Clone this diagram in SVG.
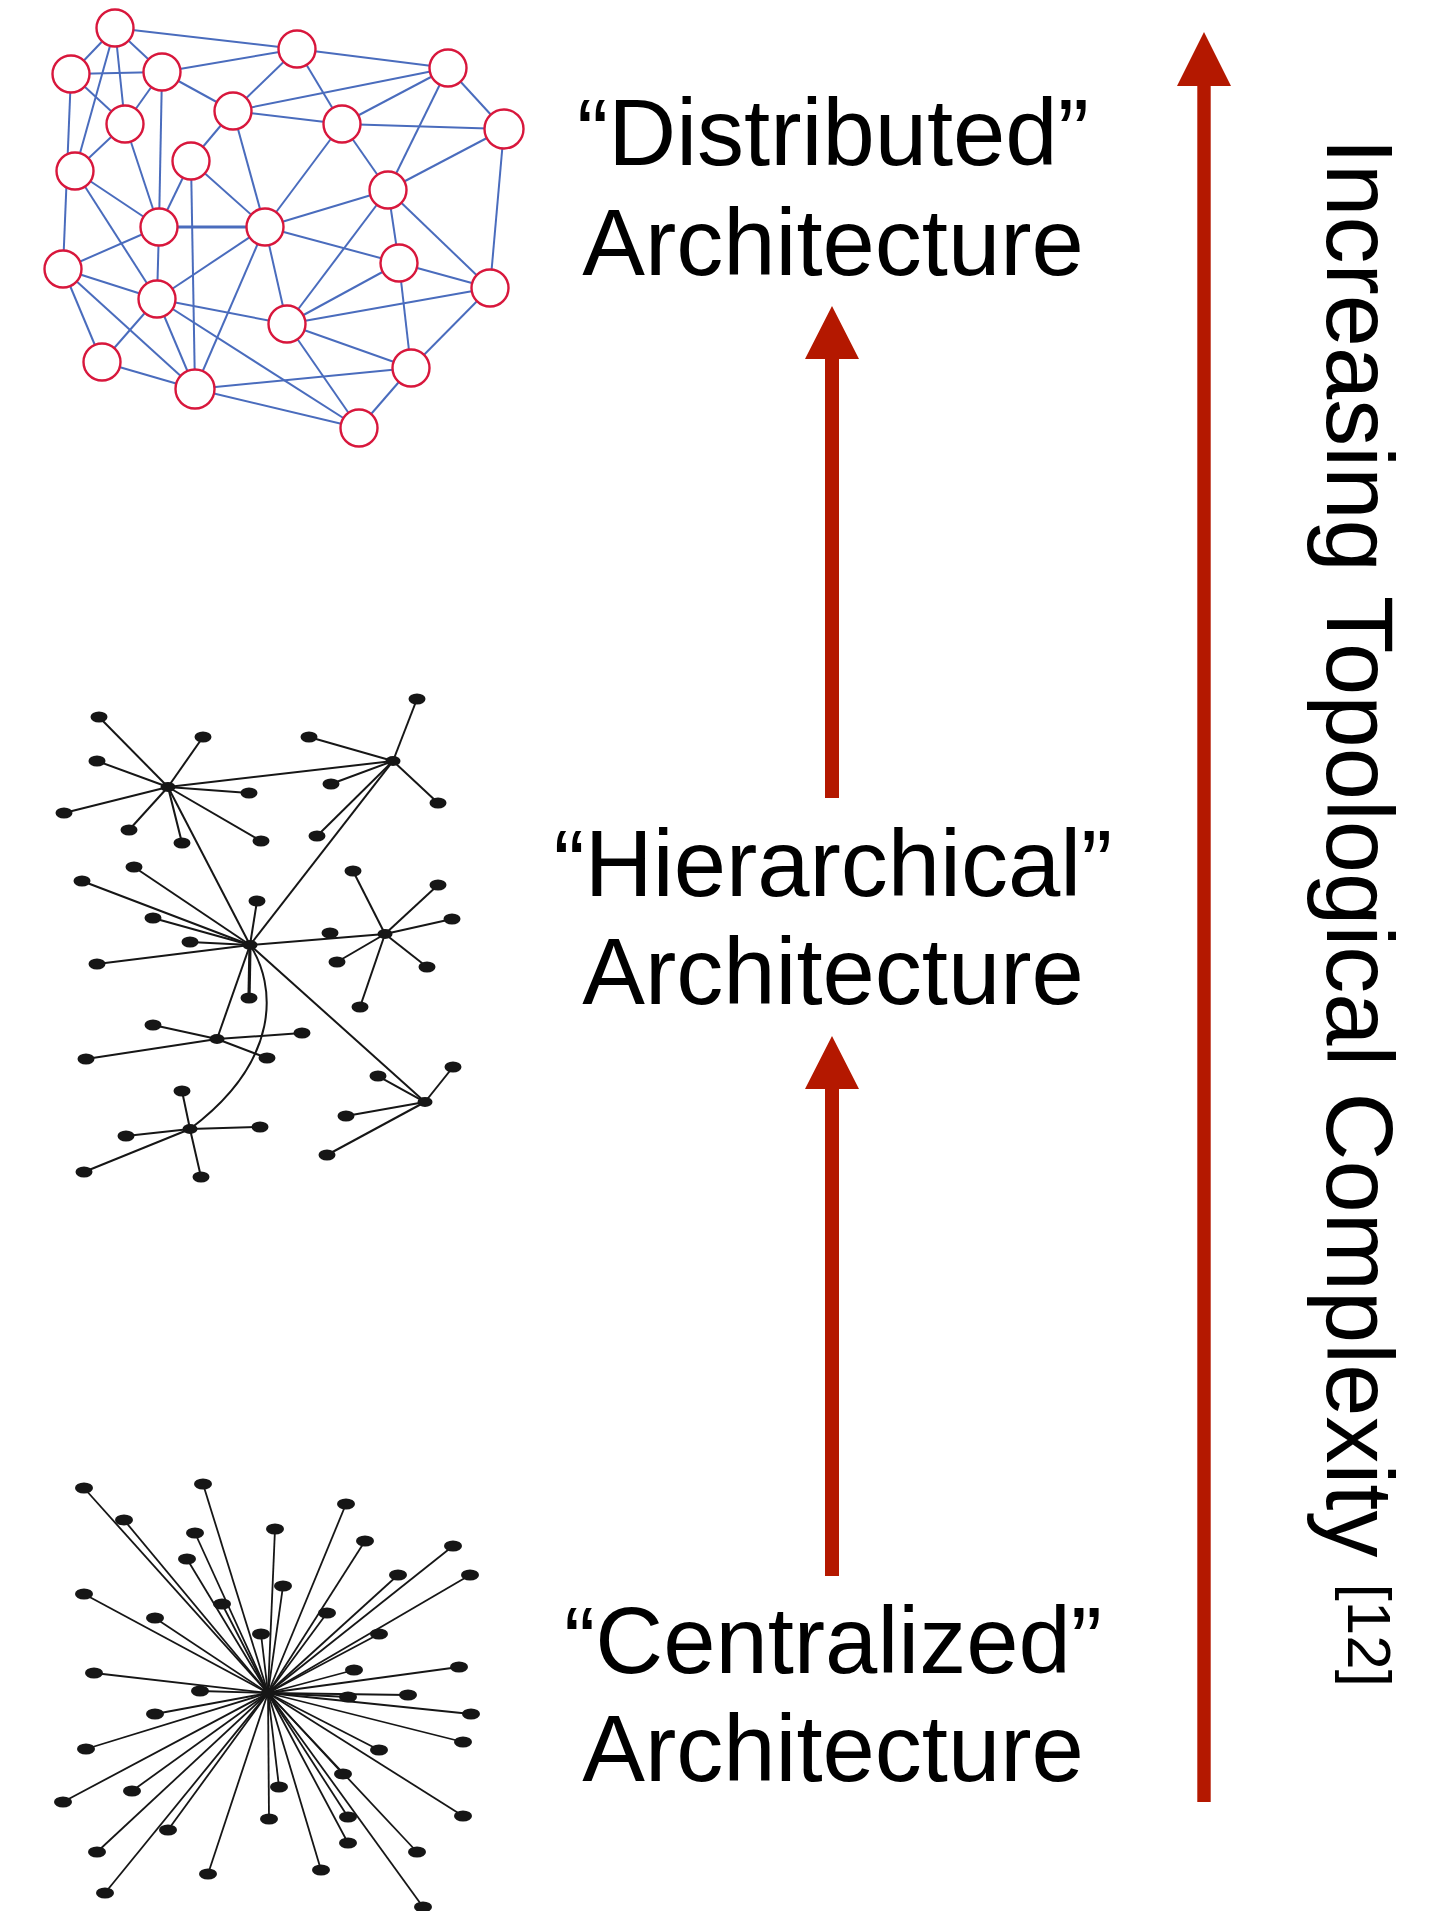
<svg xmlns="http://www.w3.org/2000/svg" width="1439" height="1911" viewBox="0 0 1439 1911">
  <style>
    .de { stroke: #4a6cbd; stroke-width: 2; fill: none; }
    .dn { fill: #ffffff; stroke: #d8173c; stroke-width: 2.4; }
    .he { stroke: #161616; stroke-width: 2; fill: none; }
    .hn { fill: #161616; }
    .ce { stroke: #161616; stroke-width: 1.8; }
    .cn { fill: #161616; }
    .label { font-family: "Liberation Sans", Arial, Helvetica, sans-serif; font-size: 94px; fill: #000000; text-anchor: middle; }
    .side { font-family: "Liberation Sans", Arial, Helvetica, sans-serif; font-size: 94px; fill: #000000; }
    .arrow { fill: #b41800; }
  </style>
  <rect width="1439" height="1911" fill="#ffffff"/>

  <!-- Distributed network: edges -->
  <g id="distributed-connectors" class="de">
    <line x1="115" y1="28" x2="297" y2="49"/>
    <line x1="115" y1="28" x2="71" y2="74"/>
    <line x1="115" y1="28" x2="162" y2="72"/>
    <line x1="115" y1="28" x2="125" y2="124"/>
    <line x1="115" y1="28" x2="75" y2="171"/>
    <line x1="71" y1="74" x2="162" y2="72"/>
    <line x1="71" y1="74" x2="125" y2="124"/>
    <line x1="71" y1="74" x2="63" y2="269"/>
    <line x1="162" y1="72" x2="297" y2="49"/>
    <line x1="162" y1="72" x2="125" y2="124"/>
    <line x1="162" y1="72" x2="233" y2="111"/>
    <line x1="162" y1="72" x2="159" y2="227"/>
    <line x1="297" y1="49" x2="233" y2="111"/>
    <line x1="297" y1="49" x2="448" y2="68"/>
    <line x1="297" y1="49" x2="342" y2="124"/>
    <line x1="448" y1="68" x2="233" y2="111"/>
    <line x1="448" y1="68" x2="342" y2="124"/>
    <line x1="448" y1="68" x2="504" y2="129"/>
    <line x1="448" y1="68" x2="388" y2="190"/>
    <line x1="125" y1="124" x2="75" y2="171"/>
    <line x1="125" y1="124" x2="159" y2="227"/>
    <line x1="233" y1="111" x2="342" y2="124"/>
    <line x1="233" y1="111" x2="191" y2="161"/>
    <line x1="233" y1="111" x2="265" y2="227"/>
    <line x1="342" y1="124" x2="504" y2="129"/>
    <line x1="342" y1="124" x2="388" y2="190"/>
    <line x1="342" y1="124" x2="265" y2="227"/>
    <line x1="504" y1="129" x2="388" y2="190"/>
    <line x1="504" y1="129" x2="490" y2="288"/>
    <line x1="75" y1="171" x2="159" y2="227"/>
    <line x1="75" y1="171" x2="157" y2="299"/>
    <line x1="191" y1="161" x2="159" y2="227"/>
    <line x1="191" y1="161" x2="265" y2="227"/>
    <line x1="191" y1="161" x2="195" y2="389"/>
    <line x1="388" y1="190" x2="265" y2="227"/>
    <line x1="388" y1="190" x2="399" y2="263"/>
    <line x1="388" y1="190" x2="490" y2="288"/>
    <line x1="388" y1="190" x2="287" y2="324"/>
    <line x1="159" y1="227" x2="265" y2="227" stroke-width="3.2"/>
    <line x1="159" y1="227" x2="63" y2="269"/>
    <line x1="159" y1="227" x2="157" y2="299"/>
    <line x1="265" y1="227" x2="399" y2="263"/>
    <line x1="265" y1="227" x2="157" y2="299"/>
    <line x1="265" y1="227" x2="287" y2="324"/>
    <line x1="265" y1="227" x2="195" y2="389"/>
    <line x1="63" y1="269" x2="157" y2="299"/>
    <line x1="63" y1="269" x2="102" y2="362"/>
    <line x1="63" y1="269" x2="195" y2="389"/>
    <line x1="399" y1="263" x2="287" y2="324"/>
    <line x1="399" y1="263" x2="490" y2="288"/>
    <line x1="399" y1="263" x2="411" y2="368"/>
    <line x1="490" y1="288" x2="287" y2="324"/>
    <line x1="490" y1="288" x2="411" y2="368"/>
    <line x1="157" y1="299" x2="287" y2="324"/>
    <line x1="157" y1="299" x2="102" y2="362"/>
    <line x1="157" y1="299" x2="195" y2="389"/>
    <line x1="157" y1="299" x2="359" y2="428"/>
    <line x1="287" y1="324" x2="411" y2="368"/>
    <line x1="287" y1="324" x2="359" y2="428"/>
    <line x1="102" y1="362" x2="195" y2="389"/>
    <line x1="195" y1="389" x2="411" y2="368"/>
    <line x1="195" y1="389" x2="359" y2="428"/>
    <line x1="411" y1="368" x2="359" y2="428"/>
  </g>

  <!-- Distributed network: nodes -->
  <g id="distributed-nodes">
    <g id="dist-n1"><circle class="dn" cx="115" cy="28" r="18.5"/></g>
    <g id="dist-n2"><circle class="dn" cx="71" cy="74" r="18.5"/></g>
    <g id="dist-n3"><circle class="dn" cx="162" cy="72" r="18.5"/></g>
    <g id="dist-n4"><circle class="dn" cx="297" cy="49" r="18.5"/></g>
    <g id="dist-n5"><circle class="dn" cx="448" cy="68" r="18.5"/></g>
    <g id="dist-n6"><circle class="dn" cx="125" cy="124" r="18.5"/></g>
    <g id="dist-n7"><circle class="dn" cx="233" cy="111" r="18.5"/></g>
    <g id="dist-n8"><circle class="dn" cx="342" cy="124" r="18.5"/></g>
    <g id="dist-n9"><circle class="dn" cx="504" cy="129" r="19.5"/></g>
    <g id="dist-n10"><circle class="dn" cx="75" cy="171" r="18.5"/></g>
    <g id="dist-n11"><circle class="dn" cx="191" cy="161" r="18.5"/></g>
    <g id="dist-n12"><circle class="dn" cx="388" cy="190" r="18.5"/></g>
    <g id="dist-n13"><circle class="dn" cx="159" cy="227" r="18.5"/></g>
    <g id="dist-n14"><circle class="dn" cx="265" cy="227" r="18.5"/></g>
    <g id="dist-n15"><circle class="dn" cx="63" cy="269" r="18.5"/></g>
    <g id="dist-n16"><circle class="dn" cx="399" cy="263" r="18.5"/></g>
    <g id="dist-n17"><circle class="dn" cx="490" cy="288" r="18.5"/></g>
    <g id="dist-n18"><circle class="dn" cx="157" cy="299" r="18.5"/></g>
    <g id="dist-n19"><circle class="dn" cx="287" cy="324" r="18.5"/></g>
    <g id="dist-n20"><circle class="dn" cx="102" cy="362" r="18.5"/></g>
    <g id="dist-n21"><circle class="dn" cx="195" cy="389" r="19.5"/></g>
    <g id="dist-n22"><circle class="dn" cx="411" cy="368" r="18.5"/></g>
    <g id="dist-n23"><circle class="dn" cx="359" cy="428" r="18.5"/></g>
  </g>

  <!-- Hierarchical network: edges -->
  <g id="hierarchical-connectors" class="he">
    <!-- hub 1 -->
    <line x1="168" y1="787" x2="99" y2="717"/>
    <line x1="168" y1="787" x2="203" y2="737"/>
    <line x1="168" y1="787" x2="97" y2="761"/>
    <line x1="168" y1="787" x2="249" y2="793"/>
    <line x1="168" y1="787" x2="64" y2="813"/>
    <line x1="168" y1="787" x2="129" y2="830"/>
    <line x1="168" y1="787" x2="182" y2="843"/>
    <line x1="168" y1="787" x2="261" y2="841"/>
    <line x1="168" y1="787" x2="393" y2="761"/>
    <line x1="168" y1="787" x2="250" y2="945"/>
    <!-- hub 2 -->
    <line x1="393" y1="761" x2="417" y2="699"/>
    <line x1="393" y1="761" x2="309" y2="737"/>
    <line x1="393" y1="761" x2="331" y2="784"/>
    <line x1="393" y1="761" x2="438" y2="803"/>
    <line x1="393" y1="761" x2="317" y2="836"/>
    <line x1="393" y1="761" x2="250" y2="945"/>
    <!-- hub 3 -->
    <line x1="250" y1="945" x2="134" y2="867"/>
    <line x1="250" y1="945" x2="82" y2="881"/>
    <line x1="250" y1="945" x2="257" y2="901"/>
    <line x1="250" y1="945" x2="153" y2="918"/>
    <line x1="250" y1="945" x2="190" y2="942"/>
    <line x1="250" y1="945" x2="97" y2="964"/>
    <line x1="250" y1="945" x2="249" y2="998" stroke-width="3.2"/>
    <line x1="250" y1="945" x2="385" y2="934"/>
    <line x1="250" y1="945" x2="217" y2="1039"/>
    <line x1="250" y1="945" x2="425" y2="1102"/>
    <path d="M250,945 C276,985 282,1060 190,1129"/>
    <!-- hub 4 -->
    <line x1="385" y1="934" x2="353" y2="871"/>
    <line x1="385" y1="934" x2="438" y2="885"/>
    <line x1="385" y1="934" x2="452" y2="919"/>
    <line x1="385" y1="934" x2="337" y2="962"/>
    <line x1="385" y1="934" x2="427" y2="967"/>
    <line x1="385" y1="934" x2="360" y2="1007"/>
    <!-- hub 5 -->
    <line x1="217" y1="1039" x2="153" y2="1025"/>
    <line x1="217" y1="1039" x2="302" y2="1033"/>
    <line x1="217" y1="1039" x2="86" y2="1059"/>
    <line x1="217" y1="1039" x2="267" y2="1058"/>
    <!-- hub 6 -->
    <line x1="425" y1="1102" x2="453" y2="1067"/>
    <line x1="425" y1="1102" x2="378" y2="1076"/>
    <line x1="425" y1="1102" x2="346" y2="1116"/>
    <line x1="425" y1="1102" x2="327" y2="1155"/>
    <!-- hub 7 -->
    <line x1="190" y1="1129" x2="182" y2="1091"/>
    <line x1="190" y1="1129" x2="260" y2="1127"/>
    <line x1="190" y1="1129" x2="126" y2="1136"/>
    <line x1="190" y1="1129" x2="84" y2="1172"/>
    <line x1="190" y1="1129" x2="201" y2="1177"/>
  </g>

  <!-- Hierarchical network: nodes -->
  <g id="hierarchical-nodes" class="hn">
    <g id="hier-hub1"><ellipse cx="168" cy="787" rx="7.5" ry="5"/></g>
    <g id="hier-hub2"><ellipse cx="393" cy="761" rx="7.5" ry="5"/></g>
    <g id="hier-hub3"><ellipse cx="250" cy="945" rx="7.5" ry="5"/></g>
    <g id="hier-hub4"><ellipse cx="385" cy="934" rx="7.5" ry="5"/></g>
    <g id="hier-hub5"><ellipse cx="217" cy="1039" rx="7.5" ry="5"/></g>
    <g id="hier-hub6"><ellipse cx="425" cy="1102" rx="7.5" ry="5"/></g>
    <g id="hier-hub7"><ellipse cx="190" cy="1129" rx="7.5" ry="5"/></g>
    <g id="hier-l1"><ellipse cx="99" cy="717" rx="8.5" ry="5.5"/></g>
    <g id="hier-l2"><ellipse cx="203" cy="737" rx="8.5" ry="5.5"/></g>
    <g id="hier-l3"><ellipse cx="97" cy="761" rx="8.5" ry="5.5"/></g>
    <g id="hier-l4"><ellipse cx="249" cy="793" rx="8.5" ry="5.5"/></g>
    <g id="hier-l5"><ellipse cx="64" cy="813" rx="8.5" ry="5.5"/></g>
    <g id="hier-l6"><ellipse cx="129" cy="830" rx="8.5" ry="5.5"/></g>
    <g id="hier-l7"><ellipse cx="182" cy="843" rx="8.5" ry="5.5"/></g>
    <g id="hier-l8"><ellipse cx="261" cy="841" rx="8.5" ry="5.5"/></g>
    <g id="hier-l9"><ellipse cx="417" cy="699" rx="8.5" ry="5.5"/></g>
    <g id="hier-l10"><ellipse cx="309" cy="737" rx="8.5" ry="5.5"/></g>
    <g id="hier-l11"><ellipse cx="331" cy="784" rx="8.5" ry="5.5"/></g>
    <g id="hier-l12"><ellipse cx="438" cy="803" rx="8.5" ry="5.5"/></g>
    <g id="hier-l13"><ellipse cx="317" cy="836" rx="8.5" ry="5.5"/></g>
    <g id="hier-l14"><ellipse cx="134" cy="867" rx="8.5" ry="5.5"/></g>
    <g id="hier-l15"><ellipse cx="82" cy="881" rx="8.5" ry="5.5"/></g>
    <g id="hier-l16"><ellipse cx="257" cy="901" rx="8.5" ry="5.5"/></g>
    <g id="hier-l17"><ellipse cx="153" cy="918" rx="8.5" ry="5.5"/></g>
    <g id="hier-l18"><ellipse cx="190" cy="942" rx="8.5" ry="5.5"/></g>
    <g id="hier-l19"><ellipse cx="97" cy="964" rx="8.5" ry="5.5"/></g>
    <g id="hier-l20"><ellipse cx="249" cy="998" rx="8.5" ry="5.5"/></g>
    <g id="hier-l21"><ellipse cx="353" cy="871" rx="8.5" ry="5.5"/></g>
    <g id="hier-l22"><ellipse cx="438" cy="885" rx="8.5" ry="5.5"/></g>
    <g id="hier-l23"><ellipse cx="452" cy="919" rx="8.5" ry="5.5"/></g>
    <g id="hier-l24"><ellipse cx="330" cy="933" rx="8.5" ry="5.5"/></g>
    <g id="hier-l25"><ellipse cx="337" cy="962" rx="8.5" ry="5.5"/></g>
    <g id="hier-l26"><ellipse cx="427" cy="967" rx="8.5" ry="5.5"/></g>
    <g id="hier-l27"><ellipse cx="360" cy="1007" rx="8.5" ry="5.5"/></g>
    <g id="hier-l28"><ellipse cx="153" cy="1025" rx="8.5" ry="5.5"/></g>
    <g id="hier-l29"><ellipse cx="302" cy="1033" rx="8.5" ry="5.5"/></g>
    <g id="hier-l30"><ellipse cx="86" cy="1059" rx="8.5" ry="5.5"/></g>
    <g id="hier-l31"><ellipse cx="267" cy="1058" rx="8.5" ry="5.5"/></g>
    <g id="hier-l32"><ellipse cx="453" cy="1067" rx="8.5" ry="5.5"/></g>
    <g id="hier-l33"><ellipse cx="378" cy="1076" rx="8.5" ry="5.5"/></g>
    <g id="hier-l34"><ellipse cx="346" cy="1116" rx="8.5" ry="5.5"/></g>
    <g id="hier-l35"><ellipse cx="327" cy="1155" rx="8.5" ry="5.5"/></g>
    <g id="hier-l36"><ellipse cx="182" cy="1091" rx="8.5" ry="5.5"/></g>
    <g id="hier-l37"><ellipse cx="260" cy="1127" rx="8.5" ry="5.5"/></g>
    <g id="hier-l38"><ellipse cx="126" cy="1136" rx="8.5" ry="5.5"/></g>
    <g id="hier-l39"><ellipse cx="84" cy="1172" rx="8.5" ry="5.5"/></g>
    <g id="hier-l40"><ellipse cx="201" cy="1177" rx="8.5" ry="5.5"/></g>
  </g>

  <!-- Centralized network: spokes -->
  <g id="centralized-connectors" class="ce">
    <line x1="268" y1="1693" x2="84" y2="1488"/>
    <line x1="268" y1="1693" x2="203" y2="1484"/>
    <line x1="268" y1="1693" x2="124" y2="1520"/>
    <line x1="268" y1="1693" x2="195" y2="1533"/>
    <line x1="268" y1="1693" x2="275" y2="1529"/>
    <line x1="268" y1="1693" x2="346" y2="1504"/>
    <line x1="268" y1="1693" x2="365" y2="1541"/>
    <line x1="268" y1="1693" x2="453" y2="1546"/>
    <line x1="268" y1="1693" x2="470" y2="1575"/>
    <line x1="268" y1="1693" x2="187" y2="1559"/>
    <line x1="268" y1="1693" x2="283" y2="1586"/>
    <line x1="268" y1="1693" x2="398" y2="1575"/>
    <line x1="268" y1="1693" x2="84" y2="1594"/>
    <line x1="268" y1="1693" x2="222" y2="1604"/>
    <line x1="268" y1="1693" x2="327" y2="1613"/>
    <line x1="268" y1="1693" x2="155" y2="1618"/>
    <line x1="268" y1="1693" x2="261" y2="1634"/>
    <line x1="268" y1="1693" x2="379" y2="1634"/>
    <line x1="268" y1="1693" x2="94" y2="1673"/>
    <line x1="268" y1="1693" x2="354" y2="1670"/>
    <line x1="268" y1="1693" x2="459" y2="1667"/>
    <line x1="268" y1="1693" x2="200" y2="1691"/>
    <line x1="268" y1="1693" x2="408" y2="1695"/>
    <line x1="268" y1="1693" x2="348" y2="1697"/>
    <line x1="268" y1="1693" x2="471" y2="1714"/>
    <line x1="268" y1="1693" x2="155" y2="1714"/>
    <line x1="268" y1="1693" x2="463" y2="1742"/>
    <line x1="268" y1="1693" x2="86" y2="1749"/>
    <line x1="268" y1="1693" x2="379" y2="1750"/>
    <line x1="268" y1="1693" x2="343" y2="1774"/>
    <line x1="268" y1="1693" x2="279" y2="1787"/>
    <line x1="268" y1="1693" x2="132" y2="1791"/>
    <line x1="268" y1="1693" x2="63" y2="1802"/>
    <line x1="268" y1="1693" x2="463" y2="1816"/>
    <line x1="268" y1="1693" x2="269" y2="1819"/>
    <line x1="268" y1="1693" x2="348" y2="1817"/>
    <line x1="268" y1="1693" x2="168" y2="1830"/>
    <line x1="268" y1="1693" x2="348" y2="1843"/>
    <line x1="268" y1="1693" x2="97" y2="1852"/>
    <line x1="268" y1="1693" x2="417" y2="1852"/>
    <line x1="268" y1="1693" x2="321" y2="1870"/>
    <line x1="268" y1="1693" x2="208" y2="1874"/>
    <line x1="268" y1="1693" x2="105" y2="1893"/>
    <line x1="268" y1="1693" x2="423" y2="1907"/>
  </g>

  <!-- Centralized network: nodes -->
  <g id="centralized-nodes" class="cn">
    <g id="cent-hub"><ellipse cx="268" cy="1693" rx="7" ry="5"/></g>
    <g id="cent-l1"><ellipse cx="84" cy="1488" rx="9" ry="5.5"/></g>
    <g id="cent-l2"><ellipse cx="203" cy="1484" rx="9" ry="5.5"/></g>
    <g id="cent-l3"><ellipse cx="124" cy="1520" rx="9" ry="5.5"/></g>
    <g id="cent-l4"><ellipse cx="195" cy="1533" rx="9" ry="5.5"/></g>
    <g id="cent-l5"><ellipse cx="275" cy="1529" rx="9" ry="5.5"/></g>
    <g id="cent-l6"><ellipse cx="346" cy="1504" rx="9" ry="5.5"/></g>
    <g id="cent-l7"><ellipse cx="365" cy="1541" rx="9" ry="5.5"/></g>
    <g id="cent-l8"><ellipse cx="453" cy="1546" rx="9" ry="5.5"/></g>
    <g id="cent-l9"><ellipse cx="470" cy="1575" rx="9" ry="5.5"/></g>
    <g id="cent-l10"><ellipse cx="187" cy="1559" rx="9" ry="5.5"/></g>
    <g id="cent-l11"><ellipse cx="283" cy="1586" rx="9" ry="5.5"/></g>
    <g id="cent-l12"><ellipse cx="398" cy="1575" rx="9" ry="5.5"/></g>
    <g id="cent-l13"><ellipse cx="84" cy="1594" rx="9" ry="5.5"/></g>
    <g id="cent-l14"><ellipse cx="222" cy="1604" rx="9" ry="5.5"/></g>
    <g id="cent-l15"><ellipse cx="327" cy="1613" rx="9" ry="5.5"/></g>
    <g id="cent-l16"><ellipse cx="155" cy="1618" rx="9" ry="5.5"/></g>
    <g id="cent-l17"><ellipse cx="261" cy="1634" rx="9" ry="5.5"/></g>
    <g id="cent-l18"><ellipse cx="379" cy="1634" rx="9" ry="5.5"/></g>
    <g id="cent-l19"><ellipse cx="94" cy="1673" rx="9" ry="5.5"/></g>
    <g id="cent-l20"><ellipse cx="354" cy="1670" rx="9" ry="5.5"/></g>
    <g id="cent-l21"><ellipse cx="459" cy="1667" rx="9" ry="5.5"/></g>
    <g id="cent-l22"><ellipse cx="200" cy="1691" rx="9" ry="5.5"/></g>
    <g id="cent-l23"><ellipse cx="408" cy="1695" rx="9" ry="5.5"/></g>
    <g id="cent-l24"><ellipse cx="348" cy="1697" rx="9" ry="5.5"/></g>
    <g id="cent-l25"><ellipse cx="471" cy="1714" rx="9" ry="5.5"/></g>
    <g id="cent-l26"><ellipse cx="155" cy="1714" rx="9" ry="5.5"/></g>
    <g id="cent-l27"><ellipse cx="463" cy="1742" rx="9" ry="5.5"/></g>
    <g id="cent-l28"><ellipse cx="86" cy="1749" rx="9" ry="5.5"/></g>
    <g id="cent-l29"><ellipse cx="379" cy="1750" rx="9" ry="5.5"/></g>
    <g id="cent-l30"><ellipse cx="343" cy="1774" rx="9" ry="5.5"/></g>
    <g id="cent-l31"><ellipse cx="279" cy="1787" rx="9" ry="5.5"/></g>
    <g id="cent-l32"><ellipse cx="132" cy="1791" rx="9" ry="5.5"/></g>
    <g id="cent-l33"><ellipse cx="63" cy="1802" rx="9" ry="5.5"/></g>
    <g id="cent-l34"><ellipse cx="463" cy="1816" rx="9" ry="5.5"/></g>
    <g id="cent-l35"><ellipse cx="269" cy="1819" rx="9" ry="5.5"/></g>
    <g id="cent-l36"><ellipse cx="348" cy="1817" rx="9" ry="5.5"/></g>
    <g id="cent-l37"><ellipse cx="168" cy="1830" rx="9" ry="5.5"/></g>
    <g id="cent-l38"><ellipse cx="348" cy="1843" rx="9" ry="5.5"/></g>
    <g id="cent-l39"><ellipse cx="97" cy="1852" rx="9" ry="5.5"/></g>
    <g id="cent-l40"><ellipse cx="417" cy="1852" rx="9" ry="5.5"/></g>
    <g id="cent-l41"><ellipse cx="321" cy="1870" rx="9" ry="5.5"/></g>
    <g id="cent-l42"><ellipse cx="208" cy="1874" rx="9" ry="5.5"/></g>
    <g id="cent-l43"><ellipse cx="105" cy="1893" rx="9" ry="5.5"/></g>
    <g id="cent-l44"><ellipse cx="423" cy="1907" rx="9" ry="5.5"/></g>
  </g>

  <!-- Progression arrows -->
  <g id="arrows" class="arrow">
    <path id="arrow-hier-to-dist" d="M832,306 L859,359 L839,359 L839,798 L825,798 L825,359 L805,359 Z"/>
    <path id="arrow-cent-to-hier" d="M832,1036 L859,1089 L839,1089 L839,1576 L825,1576 L825,1089 L805,1089 Z"/>
    <path id="arrow-complexity" d="M1204,32 L1231,86 L1210.7,86 L1210.7,1802 L1197.3,1802 L1197.3,86 L1177,86 Z"/>
  </g>

  <!-- Labels -->
  <g id="labels">
    <text class="label" x="833" y="165">“Distributed”</text>
    <text class="label" x="833" y="275">Architecture</text>
    <text class="label" x="833" y="896">“Hierarchical”</text>
    <text class="label" x="833" y="1004">Architecture</text>
    <text class="label" x="833" y="1673">“Centralized”</text>
    <text class="label" x="833" y="1781">Architecture</text>
    <text class="side" transform="translate(1327,138) rotate(90)">Increasing Topological Complexity <tspan font-size="62" dy="-21">[12]</tspan></text>
  </g>
</svg>
